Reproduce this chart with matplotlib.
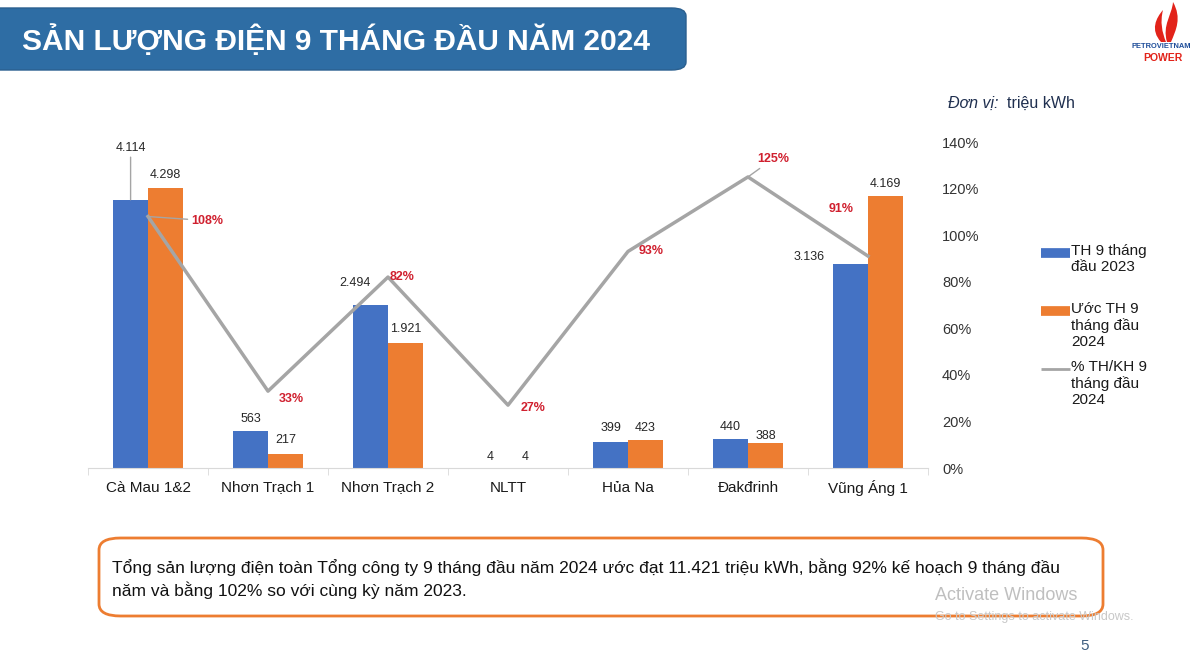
import numpy as np
import matplotlib
matplotlib.use("Agg")
from matplotlib import pyplot as plt
from matplotlib.patches import FancyBboxPatch, PathPatch
from matplotlib.lines import Line2D
from matplotlib.path import Path
from matplotlib.ticker import PercentFormatter

plt.rcParams['font.family'] = ['Liberation Sans', 'DejaVu Sans']

# ---- data ----
categories = ['Cà Mau 1&2', 'Nhơn Trạch 1', 'Nhơn Trạch 2', 'NLTT', 'Hủa Na', 'Đakđrinh', 'Vũng Áng 1']
th_2023 = [4114, 563, 2494, 4, 399, 440, 3136]
uoc_2024 = [4298, 217, 1921, 4, 423, 388, 4169]
pct_kh = [1.08, 0.33, 0.82, 0.27, 0.93, 1.25, 0.91]
lbl_2023 = ['4.114', '563', '2.494', '4', '399', '440', '3.136']
lbl_2024 = ['4.298', '217', '1.921', '4', '423', '388', '4.169']
legend_labels = ['TH 9 tháng\nđầu 2023', 'Ước TH 9\ntháng đầu\n2024', '% TH/KH 9\ntháng đầu\n2024']

# label offsets (points) - only a few differ from default
off_2023 = [(0, 37), (0, 9), (-11, 16), (0, 8), (0, 10), (0, 9), (-30, 5)]
off_2024 = [(0, 9), (0, 10), (0, 10), (0, 8), (0, 9), (0, 5), (0, 9)]
off_pct = [(43, -3), (17, -6), (10, 0), (18, -2), (17, 0), (18, 13), (-19, 34)]

BLUE = '#4472C4'
ORANGE = '#ED7D31'
GRAY = '#A5A5A5'
RED = '#D0202F'

W, H = 1200, 661
fig = plt.figure(figsize=(12, 6.61), dpi=100)


def fx(x):
    return x / W


def fy(y):
    return 1 - y / H


# title banner
fig.patches.append(FancyBboxPatch((fx(-30), fy(70)), fx(716), 62 / H,
                                  boxstyle='round,pad=0,rounding_size=0.012',
                                  transform=fig.transFigure, fc='#2E6DA4', ec='#2A5F8F', lw=1))
fig.text(fx(22), fy(40), 'SẢN LƯỢNG ĐIỆN 9 THÁNG ĐẦU NĂM 2024', color='white',
         fontsize=21.5, fontweight='bold', va='center', ha='left')

# logo
flame1 = Path([(1161, 42), (1150, 30), (1156, 18), (1163, 10), (1160, 22), (1162, 32), (1166, 42), (1161, 42)],
              [Path.MOVETO, Path.CURVE4, Path.CURVE4, Path.CURVE4, Path.CURVE4, Path.CURVE4, Path.CURVE4, Path.CLOSEPOLY])
flame2 = Path([(1167, 42), (1162, 25), (1172, 15), (1173, 2), (1182, 18), (1176, 30), (1171, 42), (1167, 42)],
              [Path.MOVETO, Path.CURVE4, Path.CURVE4, Path.CURVE4, Path.CURVE4, Path.CURVE4, Path.CURVE4, Path.CLOSEPOLY])
for fl in (flame1, flame2):
    verts = [(fx(x), fy(y)) for x, y in fl.vertices]
    fig.patches.append(PathPatch(Path(verts, fl.codes), transform=fig.transFigure, fc='#E2231A', ec='none'))
fig.text(fx(1161), fy(47), 'PETROVIETNAM', color='#1F4E9A', fontsize=5.4, fontweight='bold',
         ha='center', va='center')
fig.text(fx(1163), fy(58), 'POWER', color='#E2231A', fontsize=7.5, fontweight='bold',
         ha='center', va='center')

# unit
fig.text(fx(948), fy(103), 'Đơn vị:', color='#1F2F4F', fontsize=11.5, style='italic', va='center')
fig.text(fx(1007), fy(103), 'triệu kWh', color='#1F2F4F', fontsize=11.5, va='center')

# ---- chart ----
ax = fig.add_axes([fx(88), fy(468), fx(840), 326 / H])
x = np.arange(len(categories))
bw = 0.29
b1 = ax.bar(x - bw / 2, th_2023, bw, color=BLUE, zorder=2)
b2 = ax.bar(x + bw / 2, uoc_2024, bw, color=ORANGE, zorder=2)
ax.set_xlim(-0.5, len(categories) - 0.5)
ax.set_ylim(0, 5000)
ax.set_yticks([])
for s in ('left', 'right', 'top'):
    ax.spines[s].set_visible(False)
ax.spines['bottom'].set_color('#D9D9D9')
ax.set_xticks(x)
ax.set_xticklabels(categories, fontsize=11, color='#1a1a1a')
ax.tick_params(axis='x', length=0, pad=9)
ax.set_xticks(np.arange(-0.5, len(categories)), minor=True)
ax.tick_params(axis='x', which='minor', length=5, color='#D9D9D9')

for i in range(len(categories)):
    lead = dict(arrowstyle='-', color=GRAY, lw=1, shrinkA=0, shrinkB=0) if i == 0 else None
    ax.annotate(lbl_2023[i], (x[i] - bw / 2, th_2023[i]), xytext=off_2023[i], textcoords='offset points',
                ha='center', va='center', fontsize=9, color='#262626', arrowprops=lead)
    ax.annotate(lbl_2024[i], (x[i] + bw / 2, uoc_2024[i]), xytext=off_2024[i], textcoords='offset points',
                ha='center', va='center', fontsize=9, color='#262626')

ax2 = ax.twinx()
ax2.plot(x, pct_kh, color=GRAY, lw=2.5, zorder=3)
ax2.set_ylim(0, 1.4)
ax2.set_yticks(np.arange(0, 1.41, 0.2))
ax2.yaxis.set_major_formatter(PercentFormatter(1.0, decimals=0))
ax2.tick_params(axis='y', length=0, pad=10, labelsize=10.5, labelcolor='#333333')
for t in ax2.get_yticklabels():
    t.set_ha('left')
for s in ax2.spines.values():
    s.set_visible(False)

for i in range(len(categories)):
    lead = dict(arrowstyle='-', color=GRAY, lw=1, shrinkA=1, shrinkB=0) if i in (0, 5) else None
    ax2.annotate(f'{pct_kh[i] * 100:.0f}%', (x[i], pct_kh[i]), xytext=off_pct[i], textcoords='offset points',
                 ha='center', va='center', fontsize=9, fontweight='bold', color=RED, arrowprops=lead)

# legend (drawn by hand so the key sits at the first text line)
leg_y = [253, 311, 369]
handles = [dict(color=BLUE, lw=7), dict(color=ORANGE, lw=7), dict(color=GRAY, lw=2)]
for y0, lab, hs in zip(leg_y, legend_labels, handles):
    fig.add_artist(Line2D([fx(1041), fx(1070)], [fy(y0), fy(y0)], transform=fig.transFigure,
                          solid_capstyle='butt', **hs))
    fig.text(fx(1071), fy(y0 - 9), lab, fontsize=11, color='#1a1a1a', va='top', ha='left', linespacing=1.2)

# summary box
fig.patches.append(FancyBboxPatch((fx(99), fy(616)), fx(1004), 78 / H,
                                  boxstyle='round,pad=0,rounding_size=0.018',
                                  transform=fig.transFigure, fc='white', ec=ORANGE, lw=2))
fig.text(fx(112), fy(567), 'Tổng sản lượng điện toàn Tổng công ty 9 tháng đầu năm 2024 ước đạt 11.421 triệu kWh, '
         'bằng 92% kế hoạch 9 tháng đầu', fontsize=12.5, color='#111111', va='center')
fig.text(fx(112), fy(590), 'năm và bằng 102% so với cùng kỳ năm 2023.', fontsize=12.5, color='#111111', va='center')

fig.text(fx(935), fy(595), 'Activate Windows', fontsize=13, color='#BFBFBF', va='center')
fig.text(fx(935), fy(617), 'Go to Settings to activate Windows.', fontsize=9, color='#C8C8C8', va='center')
fig.text(fx(1085), fy(646), '5', fontsize=11, color='#3F5F80', va='center', ha='center')

fig.savefig('out.png', dpi=100)
